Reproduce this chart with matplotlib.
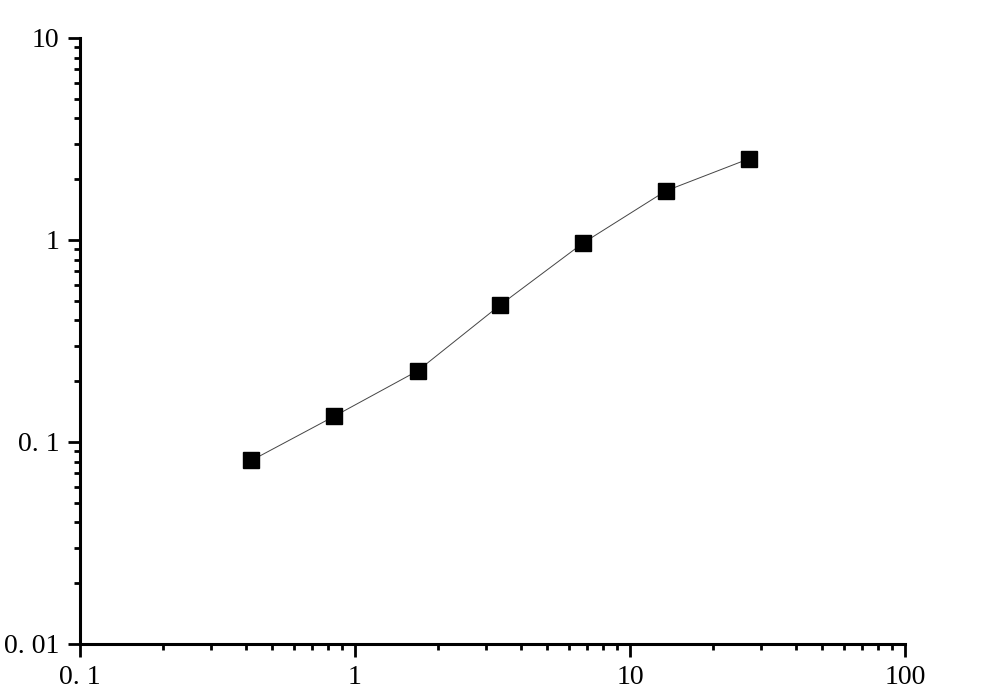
import matplotlib.pyplot as plt
from matplotlib.ticker import FixedLocator, LogLocator, NullFormatter

# données
conc = [0.42, 0.84, 1.69, 3.375, 6.75, 13.5, 27.0]
od = [0.081, 0.134, 0.225, 0.477, 0.966, 1.75, 2.52]

x_ticks = [0.1, 1, 10, 100]
x_labels = ["0. 1", "1", "10", "100"]
y_ticks = [0.01, 0.1, 1, 10]
y_labels = ["0. 01", "0. 1", "1", "10"]

plt.rcParams['font.family'] = ['Liberation Serif', 'DejaVu Serif']

fig = plt.figure(figsize=(10.04, 6.98), dpi=100)
ax = fig.add_axes([0.0797, 0.0774, 0.8217, 0.8682])

ax.plot(conc, od, color='#444444', linewidth=0.7, marker='s', markersize=11,
        markerfacecolor='black', markeredgecolor='black')

ax.set_xscale('log')
ax.set_yscale('log')
ax.set_xlim(0.1, 100)
ax.set_ylim(0.01, 10)

ax.xaxis.set_major_locator(FixedLocator(x_ticks))
ax.yaxis.set_major_locator(FixedLocator(y_ticks))
ax.set_xticklabels(x_labels)
ax.set_yticklabels(y_labels)
ax.xaxis.set_minor_locator(LogLocator(base=10, subs=range(2, 10)))
ax.yaxis.set_minor_locator(LogLocator(base=10, subs=range(2, 10)))
ax.xaxis.set_minor_formatter(NullFormatter())
ax.yaxis.set_minor_formatter(NullFormatter())

for s in ['top', 'right']:
    ax.spines[s].set_visible(False)
for s in ['left', 'bottom']:
    ax.spines[s].set_linewidth(2.2)

ax.tick_params(which='major', direction='out', length=9, width=2, labelsize=20, pad=6)
ax.tick_params(which='minor', direction='out', length=4, width=2)

fig.savefig('out.png', dpi=100)
